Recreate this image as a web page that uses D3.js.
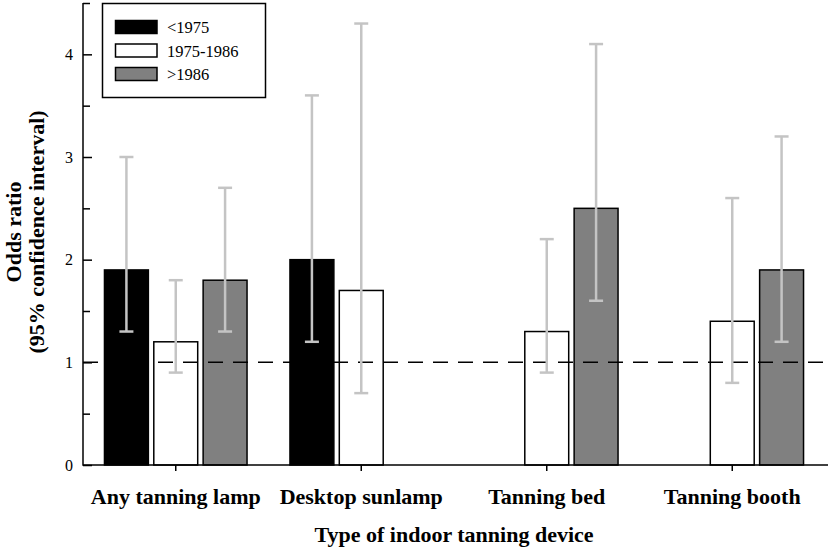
<!DOCTYPE html>
<html>
<head>
<meta charset="utf-8">
<script src="https://cdn.jsdelivr.net/npm/d3@7"></script>
<style>
  html, body { margin: 0; padding: 0; background: #fff; }
  svg { display: block; font-family: "Liberation Serif", "Times New Roman", serif; }
</style>
</head>
<body>
<svg id="chart" width="828" height="549"></svg>
<script>
const categories = ["Any tanning lamp", "Desktop sunlamp", "Tanning bed", "Tanning booth"];
const series = ["<1975", "1975-1986", ">1986"];
const seriesColors = ["#000000", "#ffffff", "#808080"];
// odds ratios (null = not shown)
const valuesPre1975 = [1.9, 2.0, null, null];
const values1975to1986 = [1.2, 1.7, 1.3, 1.4];
const valuesPost1986 = [1.8, null, 2.5, 1.9];
// 95% confidence intervals
const lowerPre1975 = [1.3, 1.2, null, null];
const upperPre1975 = [3.0, 3.6, null, null];
const lower1975to1986 = [0.9, 0.7, 0.9, 0.8];
const upper1975to1986 = [1.8, 4.3, 2.2, 2.6];
const lowerPost1986 = [1.3, null, 1.6, 1.2];
const upperPost1986 = [2.7, null, 4.1, 3.2];
const yMajorTicks = [0, 1, 2, 3, 4];
const yMinorTicks = [0.5, 1.5, 2.5, 3.5, 4.5];
const referenceValue = 1;

const valueSets = [valuesPre1975, values1975to1986, valuesPost1986];
const lowerSets = [lowerPre1975, lower1975to1986, lowerPost1986];
const upperSets = [upperPre1975, upper1975to1986, upperPost1986];

const rows = [];
categories.forEach((c, ci) => {
  series.forEach((s, si) => {
    const v = valueSets[si][ci];
    if (v != null) rows.push({cat: c, ser: s, si, value: v, lo: lowerSets[si][ci], hi: upperSets[si][ci]});
  });
});

const svg = d3.select("#chart");
const mLeft = 83, mRight = 825, mTop = 3, mBottom = 465;

const y = d3.scaleLinear().domain([0, 4.5]).range([mBottom, mTop]);
const x0 = d3.scaleBand().domain(categories).range([mLeft, mRight]).padding(0);
const x1 = d3.scaleBand().domain(series).range([-74, 74]).paddingInner(0.11).paddingOuter(0.055);
const color = d3.scaleOrdinal().domain(series).range(seriesColors);

// bars
const g = svg.append("g");
g.selectAll("rect.bar").data(rows).join("rect")
  .attr("class", "bar")
  .attr("x", d => x0(d.cat) + x0.bandwidth() / 2 + x1(d.ser))
  .attr("y", d => y(d.value))
  .attr("width", x1.bandwidth())
  .attr("height", d => y(0) - y(d.value))
  .attr("fill", d => color(d.ser))
  .attr("stroke", "#000")
  .attr("stroke-width", 1.5);

// reference dashed line
svg.append("line")
  .attr("x1", mLeft).attr("x2", 828)
  .attr("y1", y(referenceValue)).attr("y2", y(referenceValue))
  .attr("stroke", "#000").attr("stroke-width", 1.5)
  .attr("stroke-dasharray", "15,10");

// error bars
const cx = d => x0(d.cat) + x0.bandwidth() / 2 + x1(d.ser) + x1.bandwidth() / 2;
const eb = svg.append("g").attr("stroke", "#c4c4c4").attr("stroke-width", 2.5).attr("fill", "none");
eb.selectAll("line.v").data(rows).join("line").attr("class", "v")
  .attr("x1", cx).attr("x2", cx).attr("y1", d => y(d.lo)).attr("y2", d => y(d.hi));
eb.selectAll("line.cl").data(rows).join("line").attr("class", "cl")
  .attr("x1", d => cx(d) - 7).attr("x2", d => cx(d) + 7).attr("y1", d => y(d.lo)).attr("y2", d => y(d.lo));
eb.selectAll("line.ch").data(rows).join("line").attr("class", "ch")
  .attr("x1", d => cx(d) - 7).attr("x2", d => cx(d) + 7).attr("y1", d => y(d.hi)).attr("y2", d => y(d.hi));

// x axis
const xAxis = svg.append("g").attr("transform", `translate(0,${mBottom})`)
  .call(d3.axisBottom(x0).tickSize(6).tickSizeOuter(0).tickPadding(17));
xAxis.select(".domain").remove();
xAxis.selectAll(".tick line").attr("stroke", "#000").attr("stroke-width", 1.5);
xAxis.selectAll(".tick text")
  .attr("font-family", "'Liberation Serif', 'Times New Roman', serif")
  .attr("font-size", 22).attr("font-weight", "bold").attr("fill", "#000");
svg.append("line").attr("x1", mLeft).attr("x2", 828).attr("y1", mBottom).attr("y2", mBottom)
  .attr("stroke", "#000").attr("stroke-width", 1.5);

// y axis (inward ticks)
const yAxis = svg.append("g").attr("transform", `translate(${mLeft},0)`)
  .call(d3.axisLeft(y).tickValues(yMajorTicks).tickSize(-9).tickSizeOuter(0).tickPadding(10).tickFormat(d3.format("d")));
yAxis.select(".domain").remove();
yAxis.selectAll(".tick line").attr("stroke", "#000").attr("stroke-width", 1.5);
yAxis.selectAll(".tick text")
  .attr("font-family", "'Liberation Serif', 'Times New Roman', serif")
  .attr("font-size", 16).attr("fill", "#000");
const yMinor = svg.append("g").attr("transform", `translate(${mLeft},0)`)
  .call(d3.axisLeft(y).tickValues(yMinorTicks).tickSize(-7).tickSizeOuter(0).tickFormat(""));
yMinor.select(".domain").remove();
yMinor.selectAll(".tick line").attr("stroke", "#000").attr("stroke-width", 1.5);
svg.append("line").attr("x1", mLeft).attr("x2", mLeft).attr("y1", mTop).attr("y2", mBottom + 0.75)
  .attr("stroke", "#000").attr("stroke-width", 1.5);

// axis titles
svg.append("text")
  .attr("x", (mLeft + mRight) / 2).attr("y", 542)
  .attr("text-anchor", "middle").attr("font-size", 22).attr("font-weight", "bold")
  .text("Type of indoor tanning device");
const yt = svg.append("text")
  .attr("transform", `translate(0,${(mTop + mBottom) / 2 - 2}) rotate(-90)`)
  .attr("text-anchor", "middle").attr("font-size", 22).attr("font-weight", "bold");
yt.append("tspan").attr("x", 0).attr("y", 21).text("Odds ratio");
yt.append("tspan").attr("x", 0).attr("y", 44).text("(95% confidence interval)");

// legend
const lg = svg.append("g");
lg.append("rect").attr("x", 102.5).attr("y", 3.5).attr("width", 163).attr("height", 94)
  .attr("fill", "#fff").attr("stroke", "#000").attr("stroke-width", 1.5);
const li = lg.selectAll("g.item").data(series).join("g").attr("class", "item")
  .attr("transform", (d, i) => `translate(0,${i * 23.5})`);
li.append("rect").attr("x", 115.5).attr("y", 20.5).attr("width", 41.5).attr("height", 13)
  .attr("fill", d => color(d)).attr("stroke", "#000").attr("stroke-width", 1.5);
li.append("text").attr("x", 167).attr("y", 33).attr("font-size", 16.5).attr("fill", "#000").text(d => d);
</script>
</body>
</html>
